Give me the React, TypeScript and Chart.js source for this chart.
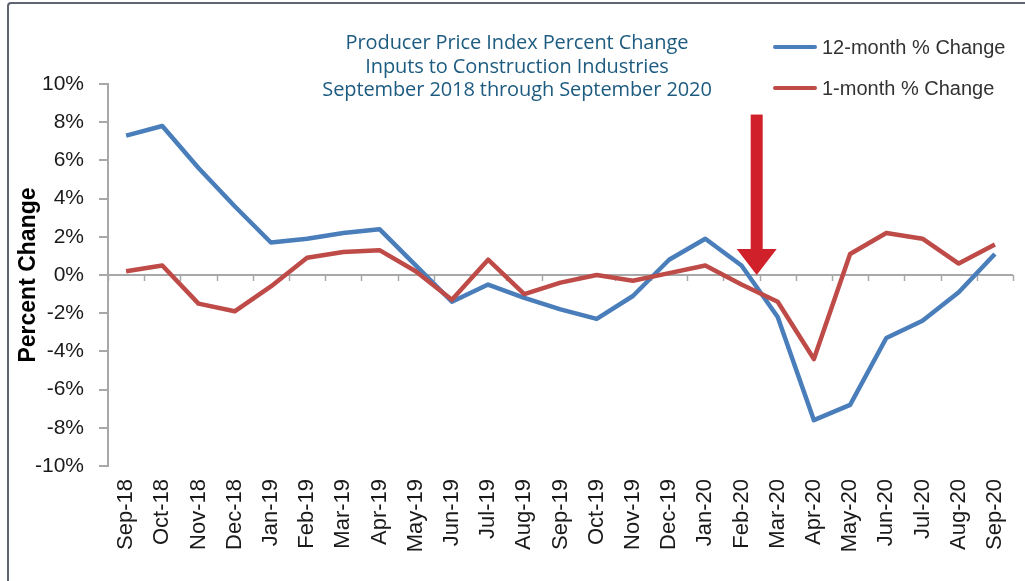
import React, { useEffect, useRef } from "react";
import { Chart, registerables } from "chart.js";

Chart.register(...registerables);

const MONTHS = [
  "Sep-18", "Oct-18", "Nov-18", "Dec-18", "Jan-19", "Feb-19", "Mar-19", "Apr-19", "May-19",
  "Jun-19", "Jul-19", "Aug-19", "Sep-19", "Oct-19", "Nov-19", "Dec-19", "Jan-20", "Feb-20",
  "Mar-20", "Apr-20", "May-20", "Jun-20", "Jul-20", "Aug-20", "Sep-20",
];

const TWELVE_MONTH = [
  7.3, 7.8, 5.6, 3.6, 1.7, 1.9, 2.2, 2.4, 0.5, -1.4, -0.5, -1.2, -1.8, -2.3, -1.1, 0.8, 1.9, 0.5,
  -2.2, -7.6, -6.8, -3.3, -2.4, -0.9, 1.1,
];

const ONE_MONTH = [
  0.2, 0.5, -1.5, -1.9, -0.6, 0.9, 1.2, 1.3, 0.2, -1.3, 0.8, -1.0, -0.4, 0.0, -0.3, 0.1, 0.5, -0.5,
  -1.4, -4.4, 1.1, 2.2, 1.9, 0.6, 1.6,
];

const SERIES_NAMES = ["12-month % Change", "1-month % Change"];
const SERIES_COLORS = ["#4a7ebb", "#be4b48"];

const TITLE_LINES = [
  "Producer Price Index Percent Change",
  "Inputs to Construction Industries",
  "September 2018 through September 2020",
];

const Y_MIN = -10;
const Y_MAX = 10;
const Y_STEP = 2;
const Y_TITLE = "Percent Change";

// Annotation arrow: fractional category position, top value, head-base value, tip value
const ARROW_INDEX = 17.42;
const ARROW_TOP = 8.4;
const ARROW_HEAD_BASE = 1.36;
const ARROW_TIP = 0;

const FONT = "'Liberation Sans', Arial, Helvetica, sans-serif";

const overlayPlugin = {
  id: "overlay",
  beforeDatasetsDraw(chart: any) {
    const { ctx, chartArea, scales } = chart;
    const x = scales.x;
    const y = scales.y;
    const y0 = y.getPixelForValue(0);
    ctx.save();
    ctx.strokeStyle = "#a8a8a8";
    ctx.lineWidth = 2;
    ctx.beginPath();
    ctx.moveTo(chartArea.left, y0);
    ctx.lineTo(chartArea.right, y0);
    ctx.stroke();
    const step = x.getPixelForValue(1) - x.getPixelForValue(0);
    const start = x.getPixelForValue(0) - step / 2;
    ctx.lineWidth = 1.5;
    for (let i = 0; i <= MONTHS.length; i++) {
      const px = Math.round(start + i * step) + 0.5;
      ctx.beginPath();
      ctx.moveTo(px, y0);
      ctx.lineTo(px, y0 + 6);
      ctx.stroke();
    }
    ctx.restore();
  },
  afterDatasetsDraw(chart: any) {
    const { ctx, scales } = chart;
    const x = scales.x;
    const y = scales.y;
    const i0 = Math.floor(ARROW_INDEX);
    const f = ARROW_INDEX - i0;
    const ax = x.getPixelForValue(i0) + f * (x.getPixelForValue(i0 + 1) - x.getPixelForValue(i0));
    const yTop = y.getPixelForValue(ARROW_TOP);
    const yBase = y.getPixelForValue(ARROW_HEAD_BASE);
    const yTip = y.getPixelForValue(ARROW_TIP);
    ctx.save();
    ctx.fillStyle = "#d0202a";
    ctx.fillRect(ax - 6, yTop, 12, yBase - yTop + 1);
    ctx.beginPath();
    ctx.moveTo(ax - 20, yBase);
    ctx.lineTo(ax + 20, yBase);
    ctx.lineTo(ax, yTip);
    ctx.closePath();
    ctx.fill();
    ctx.restore();
  },
};

export default function App() {
  const canvasRef = useRef<HTMLCanvasElement | null>(null);

  useEffect(() => {
    const canvas = canvasRef.current;
    if (!canvas) return;
    const chart = new Chart(canvas, {
      type: "line",
      data: {
        labels: MONTHS,
        datasets: [
          {
            label: SERIES_NAMES[0],
            data: TWELVE_MONTH,
            borderColor: SERIES_COLORS[0],
            backgroundColor: SERIES_COLORS[0],
            borderWidth: 4.5,
            pointRadius: 0,
            tension: 0,
            order: 1,
            borderJoinStyle: "round",
          },
          {
            label: SERIES_NAMES[1],
            data: ONE_MONTH,
            borderColor: SERIES_COLORS[1],
            backgroundColor: SERIES_COLORS[1],
            borderWidth: 4.5,
            pointRadius: 0,
            tension: 0,
            order: 0,
            borderJoinStyle: "round",
          },
        ],
      },
      options: {
        responsive: false,
        animation: false,
        layout: { padding: { top: 84, right: 12, left: 0, bottom: 0 } },
        plugins: {
          legend: { display: false },
          title: { display: false },
          tooltip: { enabled: false },
        },
        scales: {
          x: {
            type: "category",
            offset: true,
            grid: { display: false, drawTicks: false },
            border: { display: false },
            ticks: {
              autoSkip: false,
              minRotation: 90,
              maxRotation: 90,
              padding: 13,
              color: "#1a1a1a",
              font: { family: FONT, size: 22 },
            },
            afterFit(scale: any) {
              scale.height = 115;
              scale.paddingLeft = 0;
              scale.paddingRight = 0;
            },
          },
          y: {
            min: Y_MIN,
            max: Y_MAX,
            ticks: {
              stepSize: Y_STEP,
              padding: 15,
              color: "#1a1a1a",
              font: { family: FONT, size: 21 },
              callback: (v: any) => `${v}%`,
            },
            grid: {
              drawOnChartArea: false,
              drawTicks: true,
              tickLength: 9,
              tickColor: "#a8a8a8",
              lineWidth: 2,
            },
            border: { display: true, color: "#a8a8a8", width: 2 },
            title: {
              display: true,
              text: Y_TITLE,
              color: "#000",
              font: { family: FONT, size: 23, weight: "bold" },
              padding: { top: 15, bottom: 0 },
            },
            afterFit(scale: any) {
              scale.width = 108;
            },
          },
        },
      },
      plugins: [overlayPlugin],
    });
    return () => chart.destroy();
  }, []);

  return (
    <div
      style={{
        position: "absolute",
        left: 0,
        top: 0,
        width: 1025,
        height: 581,
        background: "#fff",
        overflow: "hidden",
      }}
    >
      <div
        style={{
          position: "absolute",
          left: 7,
          top: 2,
          width: 1030,
          height: 620,
          borderTop: "2px solid #5f6570",
          borderLeft: "2px solid #5f6570",
          borderTopLeftRadius: 4,
          boxSizing: "border-box",
        }}
      />
      <canvas
        ref={canvasRef}
        width={1025}
        height={581}
        style={{ position: "absolute", left: 0, top: 0, width: 1025, height: 581 }}
      />
      <div
        style={{
          position: "absolute",
          left: 267,
          top: 30,
          width: 500,
          textAlign: "center",
          fontFamily: "'Open Sans', 'Noto Sans', sans-serif",
          fontSize: 20,
          lineHeight: "23.5px",
          color: "#1d5b80",
          fontWeight: 500,
          letterSpacing: -0.1,
        }}
      >
        {TITLE_LINES.map((t) => (
          <div key={t}>{t}</div>
        ))}
      </div>
      <div style={{ position: "absolute", left: 773, top: 33 }}>
        {SERIES_NAMES.map((name, i) => (
          <div
            key={name}
            style={{
              display: "flex",
              alignItems: "center",
              height: 28,
              marginBottom: i === 0 ? 13 : 0,
            }}
          >
            <span
              style={{
                display: "inline-block",
                width: 44,
                height: 4,
                borderRadius: 2,
                background: SERIES_COLORS[i],
                marginRight: 5,
              }}
            />
            <span style={{ fontFamily: FONT, fontSize: 20, color: "#333" }}>{name}</span>
          </div>
        ))}
      </div>
    </div>
  );
}
